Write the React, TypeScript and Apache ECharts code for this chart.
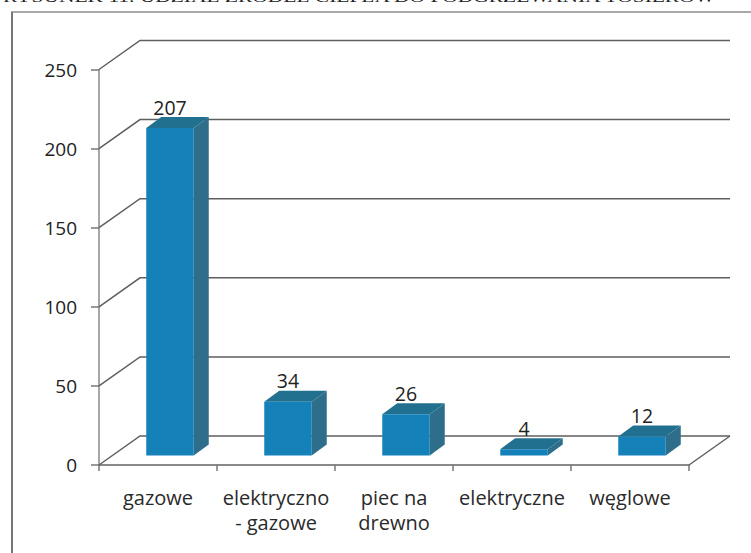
import React, { useEffect, useRef } from "react";
import * as echarts from "echarts";

const title = "RYSUNEK 11. UDZIAŁ ŹRÓDEŁ CIEPŁA DO PODGRZEWANIA TOSIERÓW";
const categories = ["gazowe", "elektryczno\n- gazowe", "piec na\ndrewno", "elektryczne", "węglowe"];
const values = [207, 34, 26, 4, 12];
const gridValues = [0, 50, 100, 150, 200, 250];

const FONT = "Open Sans";
const WALL_DX = 41;
const WALL_DY = -29;
const BAR_W = 47.5;
const BAR_DX = 12;
const BAR_LIFT = -9.5;
const SIDE_DX = 15;
const SIDE_DY = -11;

export default function App() {
  const ref = useRef<HTMLDivElement>(null);
  useEffect(() => {
    const chart = echarts.init(ref.current!, null, { renderer: "svg" });
    chart.setOption({
      animation: false,
      backgroundColor: "#ffffff",
      grid: { left: 99, right: 62, top: 69.5, bottom: 88 },
      xAxis: {
        type: "category",
        data: categories,
        axisLine: { lineStyle: { color: "#8a8a8a", width: 2 } },
        axisTick: { show: true, length: 6, alignWithLabel: false, lineStyle: { color: "#777", width: 1.5 } },
        axisLabel: { color: "#2a2a2a", fontFamily: FONT, fontSize: 20, lineHeight: 25, margin: 20, interval: 0 },
      },
      yAxis: {
        type: "value",
        min: 0,
        max: 250,
        interval: 50,
        splitLine: { show: false },
        axisLine: { show: true, lineStyle: { color: "#8a8a8a", width: 1.5 } },
        axisTick: { show: true, length: 8, lineStyle: { color: "#777", width: 1.5 } },
        axisLabel: { color: "#222", fontFamily: FONT, fontSize: 19, margin: 22 },
      },
      graphic: [
        { type: "line", shape: { x1: 11, y1: 12, x2: 751, y2: 12 }, style: { stroke: "#555", lineWidth: 1.2 } },
        { type: "line", shape: { x1: 12, y1: 12, x2: 12, y2: 553 }, style: { stroke: "#777", lineWidth: 2 } },
        {
          type: "text",
          x: 3,
          y: 5,
          scaleX: 1.43,
          style: { text: title, fontFamily: "Liberation Serif", fontSize: 15, fill: "#222", textVerticalAlign: "bottom", textBaseline: "bottom" },
        },
      ],
      series: [
        {
          type: "custom",
          z: 1,
          coordinateSystem: "cartesian2d",
          data: gridValues.map((v) => [0, v]),
          silent: true,
          renderItem: (params: any, api: any) => {
            const cs = params.coordSys;
            const y = api.coord([0, api.value(1)])[1];
            const x0 = cs.x;
            const x1 = cs.x + cs.width;
            const children: any[] = [
              {
                type: "polyline",
                shape: { points: [[x0, y], [x0 + WALL_DX, y + WALL_DY], [x1 + WALL_DX, y + WALL_DY]] },
                style: { fill: "none", stroke: "#5f5f5f", lineWidth: 1.5 },
              },
            ];
            if (api.value(1) === 0) {
              children.push({
                type: "line",
                shape: { x1, y1: y, x2: x1 + WALL_DX, y2: y + WALL_DY },
                style: { stroke: "#5f5f5f", lineWidth: 1.5 },
              });
            }
            return { type: "group", children };
          },
        },
        {
          type: "custom",
          z: 2,
          coordinateSystem: "cartesian2d",
          data: values.map((v, i) => [i, v]),
          silent: true,
          renderItem: (_params: any, api: any) => {
            const idx = api.value(0);
            const val = api.value(1);
            const base = api.coord([idx, 0]);
            const top = api.coord([idx, val]);
            const l = base[0] + BAR_DX - BAR_W / 2;
            const r = l + BAR_W;
            const b = base[1] + BAR_LIFT;
            const t = top[1] + BAR_LIFT;
            return {
              type: "group",
              children: [
                {
                  type: "polygon",
                  shape: { points: [[r, b], [r + SIDE_DX, b + SIDE_DY], [r + SIDE_DX, t + SIDE_DY], [r, t]] },
                  style: { fill: "#2f6e8a" },
                },
                {
                  type: "polygon",
                  shape: { points: [[l, t], [l + SIDE_DX, t + SIDE_DY], [r + SIDE_DX, t + SIDE_DY], [r, t]] },
                  style: { fill: "#22708f" },
                },
                { type: "rect", shape: { x: l, y: t, width: BAR_W, height: b - t }, style: { fill: "#1481b8" } },
                {
                  type: "text",
                  x: (l + r) / 2,
                  y: t + SIDE_DY - 10,
                  style: {
                    text: String(val),
                    fontFamily: FONT,
                    fontSize: 19.5,
                    fill: "#222",
                    textAlign: "center",
                    textVerticalAlign: "middle",
                    textBaseline: "middle",
                  },
                },
              ],
            };
          },
        },
      ],
    });
    return () => chart.dispose();
  }, []);
  return <div ref={ref} style={{ position: "fixed", left: 0, top: 0, width: 751, height: 553 }} />;
}
